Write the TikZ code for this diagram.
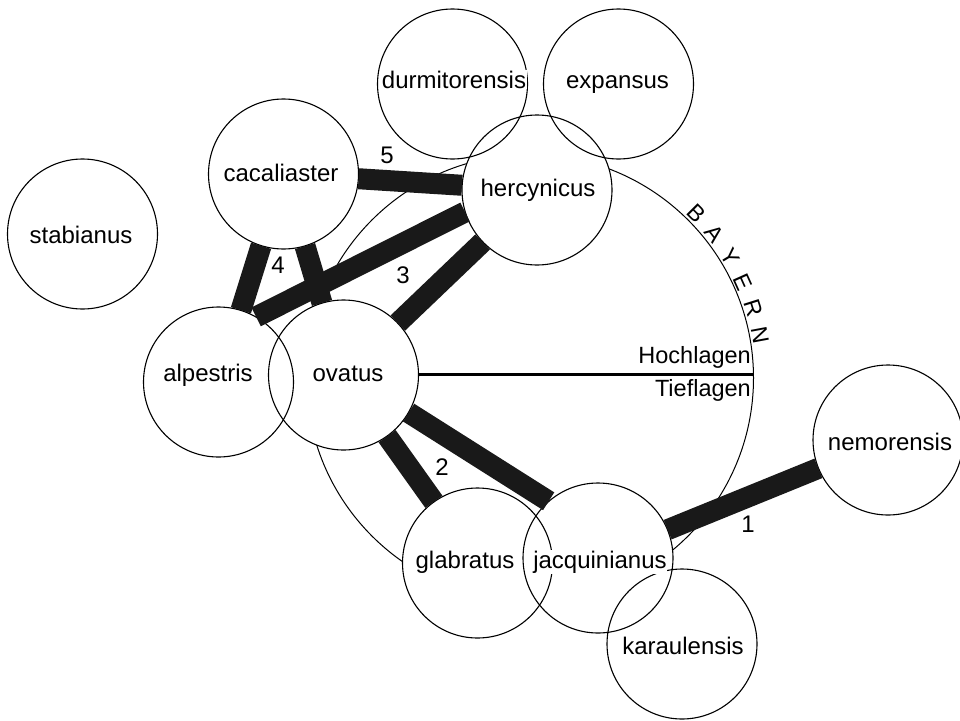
\documentclass[tikz,border=0pt]{standalone}
\usepackage{fontspec}
\setmainfont{Liberation Sans}
\usetikzlibrary{calc}
\pgfdeclarelayer{background}
\pgfsetlayers{background,main}
\begin{document}
\begin{tikzpicture}[x=1pt,y=-1pt,
  sp/.style={circle, fill=white, minimum size=150pt, inner sep=0pt},
  ring/.style={line width=1.1pt},
  bar/.style={line width=21pt, draw=black!90},
  lbl/.style={font=\fontsize{24}{28}\selectfont, anchor=base, fill=white, inner sep=0.6pt},
  num/.style={font=\fontsize{24}{28}\selectfont, anchor=base},
  side/.style={font=\fontsize{23.5}{28}\selectfont, anchor=base east, inner sep=0pt},
  lett/.style={font=\fontsize{23}{27}\selectfont, inner sep=0pt},
  bigring/.style={line width=1pt},
  hline/.style={line width=3pt}]
\useasboundingbox (0,0) rectangle (960,720);

% species circles (white discs)
\node[sp] (stab) at (82.5,234) {};
\node[sp] (cac)  at (283.5,174) {};
\node[sp] (durm) at (452.5,84) {};
\node[sp] (exp)  at (618.5,84) {};
\node[sp] (herc) at (537,190) {};
\node[sp] (alp)  at (218.5,382) {};
\node[sp] (ovat) at (343.5,375) {};
\node[sp] (nem)  at (888,440) {};
\node[sp] (glab) at (477.5,563) {};
\node[sp] (jacq) at (598,558) {};
\node[sp] (kar)  at (682,644) {};

% Bayern circle and altitude line (behind the discs)
\coordinate (bc) at (530,378);
\coordinate (hl) at (753.5,374);
\begin{pgfonlayer}{background}
  \draw[bigring] (bc) circle[radius=223.5pt];
  \draw[hline] (ovat.center |- hl) -- (hl);
\end{pgfonlayer}

% circle outlines
\foreach \n in {stab,cac,durm,exp,herc,alp,ovat,nem,glab,jacq,kar}
  \draw[ring] (\n.center) circle[radius=75pt];

% connecting bars
\draw[bar] (cac) -- (herc);
\draw[bar] (cac) -- (alp);
\draw[bar] (cac) -- (ovat);
\draw[bar] (alp.60) -- (herc.197);
\draw[bar] (ovat) -- (herc);
\draw[bar] (ovat) -- (glab);
\draw[bar] (ovat.-30) -- (jacq.131);
\draw[bar] (jacq) -- (nem);

% species names
\node[lbl] (stab-t) at (81,243) {stabianus};
\node[lbl] (cac-t)  at (281,181.5) {cacaliaster};
\node[lbl] (durm-t) at (454,88) {durmitorensis};
\node[lbl] (exp-t)  at (617.5,88) {expansus};
\node[lbl] (herc-t) at (538,196.5) {hercynicus};
\node[lbl] (alp-t)  at (208,381.5) {alpestris};
\node[lbl] (ovat-t) at (348,381.5) {ovatus};
\node[lbl] (nem-t)  at (890,450) {nemorensis};
\node[lbl] (glab-t) at (465,568) {glabratus};
\node[lbl] (jacq-t) at (600,568) {jacquinianus};
\node[lbl] (kar-t)  at (683,654) {karaulensis};

% bar numbers
\node[num] (n5) at (387,163) {5};
\node[num] (n4) at (278,273) {4};
\node[num] (n3) at (403,283) {3};
\node[num] (n2) at (442,475) {2};
\node[num] (n1) at (748,532) {1};

% altitude labels
\node[side] (hoch) at (751,363) {Hochlagen};
\node[side] (tief) at (751,396) {Tieflagen};

% BAYERN along the arc
\foreach \l [count=\i from 0] in {B,A,Y,E,R,N} {
  \pgfmathsetmacro\ang{44.8-6.84*\i}
  \node[lett, rotate=\ang-90] (bay\i) at ($(bc)+(-\ang:234)$) {\l};
}
\end{tikzpicture}
\end{document}
